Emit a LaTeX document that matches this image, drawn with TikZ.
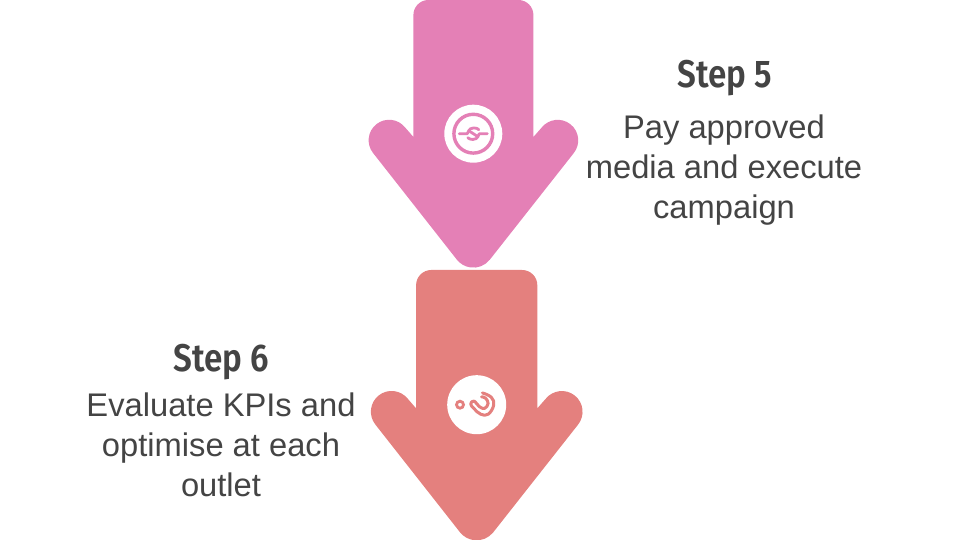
\documentclass[tikz,border=0pt]{standalone}
\usepackage{fontspec}
\setmainfont{Liberation Sans}
\newfontfamily\stepfont[FakeStretch=0.86]{Fira Sans SemiBold}
\definecolor{pinkfill}{HTML}{E480B6}
\definecolor{redfill}{HTML}{E4807E}
\definecolor{textgrey}{HTML}{444444}
\tikzset{
  stepicon/.style={circle,fill=white,minimum size=58pt,inner sep=0pt},
  title/.style={inner sep=0pt,text=textgrey,font=\stepfont\fontsize{38.6}{40}\selectfont},
  body/.style={inner sep=0pt,text=textgrey,align=center,font=\fontsize{32.7}{40}\selectfont},
  glyph/.style={line width=2.8pt,line cap=round,line join=round}
}
\newcommand{\arrowpath}{
  (-60,-137) -- (-60,-15) arc[start angle=180,end angle=90,radius=15]
  -- (45,0) arc[start angle=90,end angle=0,radius=15]
  -- (60,-137) -- (68.25,-127.6)
  arc[start angle=141.6,end angle=-38.4,radius=20.5]
  -- (16.4,-259.7)
  arc[start angle=-38.4,end angle=-141.6,radius=21]
  -- (-100.35,-153)
  arc[start angle=218.4,end angle=38.4,radius=20.5]
  -- cycle
}
\begin{document}
\begin{tikzpicture}[x=1pt,y=1pt]
\useasboundingbox (0,0) rectangle (960,540);
\fill[pinkfill,shift={(473.4,540)}] \arrowpath;
\fill[redfill,shift={(476.7,270)},scale=1.01] \arrowpath;
% icon 5
\node[stepicon] (iconA) at (473.3,406.3) {};
\begin{scope}[shift={(iconA.center)}]
\draw[pinkfill,line width=3.4pt] (0,0) circle (19.4);
\draw[pinkfill,glyph] (-14,0) -- (-6.2,0) .. controls (-5,0) and (-5.5,5.8) .. (0.5,5.8) .. controls (3,5.8) and (4.5,5) .. (5.5,4);
\draw[pinkfill,glyph] (14,0) -- (6.2,0) .. controls (5,0) and (5.5,-5.8) .. (-0.5,-5.8) .. controls (-3,-5.8) and (-4.5,-5) .. (-5.5,-4);
\draw[pinkfill,glyph] (-4,2.6) -- (4,-2.6);
\end{scope}
% icon 6
\node[stepicon,minimum size=59pt] (iconB) at (476.7,135.3) {};
\begin{scope}[shift={(iconB.center)}]
\draw[redfill,line width=2.8pt] (-16.7,0) circle (3.5);
\draw[redfill,glyph,line width=3pt] plot[smooth,tension=0.7] coordinates {
 (5.7,11.8) (14.5,7.5) (17,-0.3) (11.5,-9.5) (4,-9.5) (-2.7,-3.9) (-6,0.7) (-2.7,3.6) (2.7,-2) (8,-3.6) (11.4,1.3) (8.8,6.6) (4.8,7.8)};
\end{scope}
\node[title] (titleA) at (725,461.5) {Step 5};
\node[body] (bodyA) at (724,370) {Pay approved\\media and execute\\campaign};
\node[title] (titleB) at (221.3,178) {Step 6};
\node[body] (bodyB) at (221,95.5) {Evaluate KPIs and\\optimise at each\\outlet};
\end{tikzpicture}
\end{document}
